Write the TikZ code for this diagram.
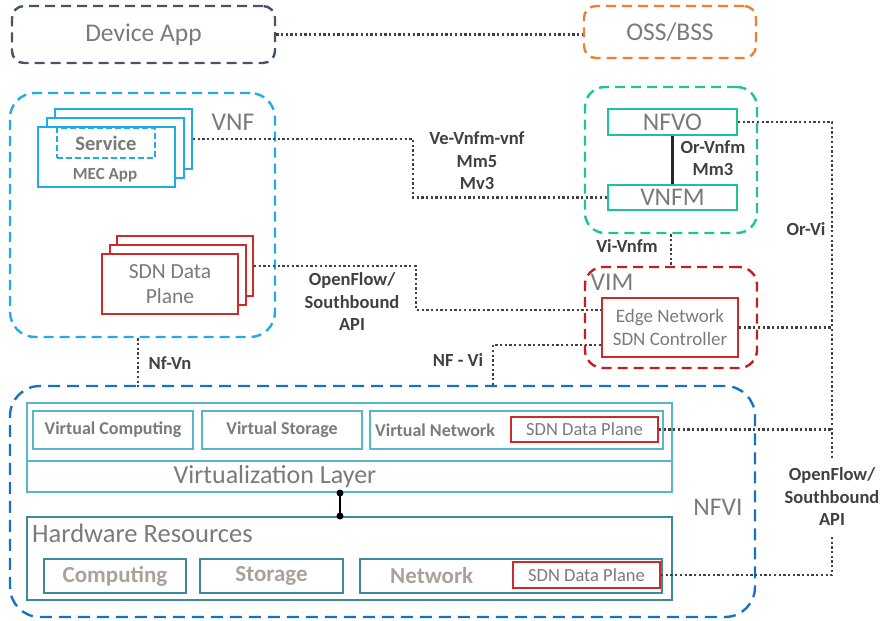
\documentclass[tikz,border=0pt]{standalone}
\usepackage{fontspec}
\setmainfont{Carlito}
\usepackage{tikz}

\definecolor{slate}{HTML}{44546A}
\definecolor{ossorange}{HTML}{F27F2F}
\definecolor{vnfblue}{HTML}{1EAEE6}
\definecolor{manogreen}{HTML}{1DC39B}
\definecolor{vimred}{HTML}{C41E24}
\definecolor{sdnred}{HTML}{CF2A2A}
\definecolor{nfviblue}{HTML}{1872C2}
\definecolor{virtteal}{HTML}{58B6CC}
\definecolor{hwteal}{HTML}{3A8BA0}
\definecolor{txtgrey}{HTML}{7A7A7A}
\definecolor{lblgrey}{HTML}{404040}
\definecolor{hwtxt}{HTML}{A8A29B}

\begin{document}
\begin{tikzpicture}[x=1pt, y=-1pt,
  zone/.style={dash pattern=on 10pt off 6pt, line width=2.4pt, rounded corners=#1, inner sep=0pt},
  sheet/.style={fill=white, line width=2pt, minimum width=137pt, minimum height=60pt, inner sep=0pt},
  fnbox/.style={line width=2pt, inner sep=0pt},
  title/.style={text=txtgrey, font=\fontsize{25.5}{28}\selectfont, inner sep=0pt},
  lbl/.style={text=lblgrey, font=\bfseries\fontsize{18.5}{22.5}\selectfont, align=center, inner sep=3pt},
  link/.style={draw=lblgrey, line width=2.4pt, dash pattern=on 2.3pt off 2.4pt},
  vbox/.style={draw=virtteal, line width=2pt, minimum height=38pt, inner sep=0pt, text=txtgrey, font=\bfseries\fontsize{18}{22}\selectfont},
  hbox/.style={draw=hwteal, line width=2pt, minimum height=34pt, inner sep=0pt, text=hwtxt, font=\bfseries\fontsize{23}{26}\selectfont},
  sdnbox/.style={draw=sdnred, line width=2pt, minimum width=147pt, inner sep=0pt, text=txtgrey, font=\fontsize{18.5}{22}\selectfont}]
  \useasboundingbox (0,0) rectangle (881,621);

  % top row
  \node[zone=12pt, draw=slate, minimum width=263pt, minimum height=57pt, title] (dev) at (143.5,34.5) {Device App};
  \node[zone=12pt, draw=ossorange, minimum width=172pt, minimum height=52pt, title] (oss) at (670,32) {OSS/BSS};
  \draw[link] (dev.east) -- (dev.east -| oss.west);

  % VNF
  \node[zone=25pt, draw=vnfblue, minimum width=265pt, minimum height=244pt] (vnf) at (142.5,215) {};
  \node[title] (vnflbl) at (233,122) {VNF};
  \foreach \i/\x/\y in {C/123.5/139, B/115/148, A/106.5/157}
    \node[sheet, draw=vnfblue] (mec\i) at (\x,\y) {};
  \node[draw=vnfblue, line width=1.2pt, dash pattern=on 6pt off 3pt, minimum width=98pt, minimum height=30pt, inner sep=0pt,
        text=txtgrey, font=\bfseries\fontsize{20.5}{24}\selectfont] (svc) at (106,143) {Service};
  \node[text=txtgrey, font=\bfseries\fontsize{17}{20}\selectfont, inner sep=0pt] (mectxt) at (105,175) {MEC App};
  \foreach \i/\x/\y in {C/185/266, B/177.5/275, A/170/284}
    \node[sheet, draw=sdnred, minimum width=136pt] (sdn\i) at (\x,\y) {};
  \node[text=txtgrey, align=center, font=\fontsize{21.5}{25}\selectfont, inner sep=0pt] (sdntxt) at (sdnA) {SDN Data\\Plane};

  % MANO
  \node[zone=20pt, draw=manogreen, minimum width=172pt, minimum height=146pt] (mano) at (671,160) {};
  \node[fnbox, draw=manogreen, minimum width=129pt, minimum height=26pt, title] (nfvo) at (672.5,122) {NFVO};
  \node[fnbox, draw=manogreen, minimum width=129pt, minimum height=25pt, title] (vnfm) at (672.5,197.5) {VNFM};
  \draw[line width=2.2pt, black!85] (nfvo) -- (vnfm);
  \node[lbl] (ormm) at (713,158) {Or-Vnfm\\Mm3};

  % VIM
  \node[zone=18pt, draw=vimred, minimum width=172pt, minimum height=101pt] (vim) at (671,317.5) {};
  \node[title] (vimlbl) at (612,282) {VIM};
  \node[draw=sdnred, line width=2pt, minimum width=136pt, minimum height=59pt, inner sep=0pt, align=center, text=txtgrey,
        font=\fontsize{19}{23}\selectfont] (edge) at (670,327.5) {Edge Network\\SDN Controller};
  \draw[link] (mano.south) -- (vim.north);
  \node[lbl] (vivnfm) at (627,246) {Vi-Vnfm};

  % NFVI
  \node[zone=30pt, draw=nfviblue, dash pattern=on 12pt off 7pt, minimum width=745pt, minimum height=231pt] (nfvi) at (382.5,501.5) {};
  \node[title] (nfvilbl) at (718,507) {NFVI};
  \node[draw=virtteal, line width=2pt, minimum width=645pt, minimum height=89pt, inner sep=0pt] (virt) at (349.5,447.5) {};
  \draw[virtteal, line width=2pt] ([yshift=32pt]virt.south west) -- ([yshift=32pt]virt.south east);
  \node[vbox, minimum width=160pt] (vcomp) at (113,430) {Virtual Computing};
  \node[vbox, minimum width=160pt] (vstor) at (282,430) {Virtual Storage};
  \node[vbox, minimum width=293pt] (vnet) at (516.5,430) {};
  \node[text=txtgrey, font=\bfseries\fontsize{18}{22}\selectfont, inner sep=0pt, anchor=west] (vnettxt) at (375,430) {Virtual Network};
  \node[sdnbox, minimum height=25pt] (sdnup) at (584.5,429.5) {SDN Data Plane};
  \node[title, font=\fontsize{26}{30}\selectfont] (virtlbl) at (275,477) {Virtualization Layer};

  \node[draw=hwteal, line width=2pt, minimum width=645pt, minimum height=83pt, inner sep=0pt] (hw) at (349.5,558.5) {};
  \node[title, anchor=west, font=\fontsize{26.5}{30}\selectfont] (hwlbl) at (32,533) {Hardware Resources};
  \node[hbox, minimum width=142pt] (comp) at (115,576) {Computing};
  \node[hbox, minimum width=143pt] (stor) at (271.5,576) {Storage};
  \node[hbox, minimum width=302pt] (net) at (511,576) {};
  \node[text=hwtxt, font=\bfseries\fontsize{23}{26}\selectfont, inner sep=0pt, anchor=west] (nettxt) at (390,576) {Network};
  \node[sdnbox, minimum height=26pt] (sdnlo) at (586.5,575) {SDN Data Plane};

  \draw[line width=2pt] ([xshift=-9.5pt]virt.south) -- ([xshift=-9.5pt]hw.north);
  \fill ([xshift=-9.5pt]virt.south) circle (3.5pt);
  \fill ([xshift=-9.5pt]hw.north) circle (3.5pt);

  % reference points
  \draw[link] (mecC.east) -- ++(220,0) |- (vnfm.west);
  \node[lbl] (vevnfm) at (477,161) {Ve-Vnfm-vnf\\Mm5\\Mv3};
  \draw[link] (sdnC.east) -- ++(162,0) |- ([yshift=17.5pt]edge.west);
  \node[lbl] (ofleft) at (352,302) {OpenFlow/\\Southbound\\API};
  \draw[link] ([yshift=-17.5pt]edge.west) -| ([xshift=110.5pt]nfvi.north);
  \node[lbl] (nfvilink) at (458,360) {NF - Vi};
  \draw[link] ([xshift=-4.5pt]vnf.south) -- ++(0,49);
  \node[lbl] (nfvn) at (170,363) {Nf-Vn};

  \node[lbl, inner sep=9pt] (ofright) at (832,497) {OpenFlow/\\Southbound\\API};
  \draw[link] (nfvo.east) -| (ofright.north);
  \draw[link] (edge.east) -- (edge.east -| ofright.north);
  \draw[link] (sdnup.east) -- (sdnup.east -| ofright.north);
  \draw[link] (sdnlo.east) -| (ofright.south);
  \node[lbl] (orvi) at (806,229) {Or-Vi};
\end{tikzpicture}
\end{document}
